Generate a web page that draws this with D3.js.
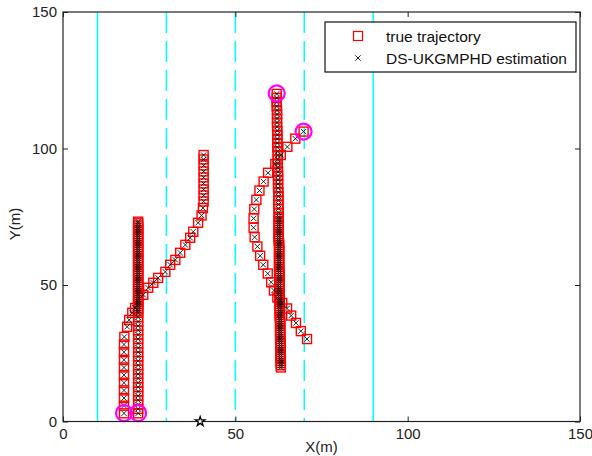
<!DOCTYPE html>
<html>
<head>
<meta charset="utf-8">
<script src="https://cdn.jsdelivr.net/npm/d3@7"></script>
<style>
  html, body { margin: 0; padding: 0; background: #fff; }
  svg { display: block; font-family: "Liberation Sans", Arial, sans-serif; }
</style>
</head>
<body>
<div id="chart"></div>
<script>
// axis ticks and lanes
const xTicks = [0, 50, 100, 150];
const yTicks = [0, 50, 100, 150];
const solidLanes = [10, 90];
const dashedLanes = [30, 50, 70];

// target 1: straight up along x ~ 21.8
const track1X = 21.8;
const track1Y = [3, 4.6, 6.2, 7.8, 9.4, 11, 12.6, 14.2, 15.8, 17.4, 19, 20.6, 22.2, 23.8,
  25.4, 27, 28.6, 30.2, 31.8, 33.4, 35, 36.6, 38.2, 39.8, 40.6, 41.4, 42.2, 43.0, 43.8,
  44.6, 45.4, 46.2, 47.0, 47.8, 48.6, 49.4, 50.2, 51.0, 51.8, 52.6, 53.4, 54.2, 55.0,
  55.8, 56.6, 57.4, 58.2, 59.0, 59.8, 60.6, 61.4, 62.2, 63.0, 63.8, 64.6, 65.4, 66.2,
  67.0, 67.8, 68.6, 69.4, 70.2, 71.0, 71.8, 72.6, 73.2];

// target 2: up, then bending right to x ~ 40
const track2 = [
  [17.7, 3], [17.7, 5.8], [17.7, 8.6], [17.7, 11.4], [17.7, 14.2], [17.7, 17],
  [17.7, 19.8], [17.7, 22.6], [17.7, 25.4], [17.7, 28.2], [17.8, 31],
  [18.6, 34.7], [19.2, 37.2], [20.1, 39.8], [20.9, 41.6], [21.8, 43.8], [23.3, 46.4],
  [24.7, 49], [26.2, 50.8], [27.6, 52.6], [29.7, 54.8], [31.1, 57.4], [32.6, 59.2],
  [34, 61.8], [35.5, 64.7], [36.9, 67.3], [37.8, 69.5], [39.2, 72.8], [40.2, 75.5],
  [40.6, 78.2], [40.8, 80.6], [40.8, 82.8], [40.8, 85], [40.8, 87.2], [40.8, 89.4],
  [40.8, 91.6], [40.8, 93.8], [40.8, 96], [40.8, 97.6]
];

// target 3: down from (62,120) to (63,20)
const track3 = [
  [62.0, 120], [62.0, 118.5], [62.0, 117], [62.0, 115.5], [62.1, 114], [62.1, 112.5],
  [62.1, 111], [62.1, 109.5], [62.1, 108], [62.2, 106.5], [62.2, 105], [62.2, 103.5],
  [62.2, 102], [62.2, 100.5], [62.3, 99], [62.3, 97.5], [62.3, 96], [62.3, 94.5],
  [62.3, 93], [62.4, 91.5], [62.4, 90], [62.4, 88.5], [62.4, 87], [62.4, 85.5],
  [62.5, 84], [62.5, 82.5], [62.5, 81], [62.5, 79.5], [62.5, 78], [62.6, 76.5],
  [62.6, 75], [62.6, 74.2], [62.6, 73.4], [62.6, 72.6], [62.6, 71.8], [62.6, 71.0],
  [62.6, 70.2], [62.6, 69.4], [62.6, 68.6], [62.6, 67.8], [62.6, 67.0], [62.6, 66.2],
  [62.7, 65.4], [62.7, 64.6], [62.7, 63.8], [62.7, 63.0], [62.7, 62.2], [62.7, 61.4],
  [62.7, 60.6], [62.7, 59.8], [62.7, 59.0], [62.7, 58.2], [62.7, 57.4], [62.7, 56.6],
  [62.7, 55.8], [62.8, 55.0], [62.8, 54.2], [62.8, 53.4], [62.8, 52.6], [62.8, 51.8],
  [62.8, 51.0], [62.8, 50.2], [62.8, 49.4], [62.8, 48.6], [62.8, 47.8], [62.8, 47.0],
  [62.9, 46.2], [62.9, 45.4], [62.9, 44.6], [62.9, 43.8], [62.9, 43.0], [62.9, 42.2],
  [62.9, 41.4], [62.9, 40.6], [62.9, 39.8], [62.9, 39.0], [62.9, 38.2], [63.0, 37.4],
  [63.0, 36.6], [63.0, 35.8], [63.0, 35.0], [63.0, 34.2], [63.0, 33.4], [63.0, 32.6],
  [63.0, 31.8], [63.0, 31.0], [63.0, 30.2], [63.1, 29.4], [63.1, 28.6], [63.1, 27.8],
  [63.1, 27.0], [63.1, 26.2], [63.1, 25.4], [63.1, 24.6], [63.1, 23.8], [63.1, 23.0],
  [63.2, 22.2], [63.2, 21.4], [63.2, 20.6], [63.2, 19.8]
];

// target 4: arc from (70,106) left to x ~ 55 and back to (71,30)
const track4 = [
  [69.8, 106.2], [67.4, 103.6], [65.1, 100.6], [63.2, 97.6], [61.6, 94.3], [59.5, 91.1],
  [58.2, 87.9], [57.0, 84.6], [56.1, 81.2], [55.5, 77.8], [55.3, 74.4], [55.3, 71.0],
  [55.6, 67.5], [56.4, 64.1], [57.2, 60.7], [58.1, 57.4], [59.4, 54.2], [60.4, 51.0],
  [61.2, 48.0], [62.2, 45.4], [63.6, 43.4], [65.0, 41.4], [66.2, 38.8], [67.6, 36.1],
  [69.0, 33.1], [70.8, 30.2]
];

const births = [[17.7, 3.1], [21.8, 3.1], [62.0, 120.2], [69.8, 106.2]];
const sensor = [[39.8, 0]];

const legendLabels = ['true trajectory', 'DS-UKGMPHD estimation'];

const width = 592, height = 456;
const margin = { top: 12, right: 12, bottom: 34.5, left: 63 };

const svg = d3.select('#chart').append('svg')
  .attr('width', width)
  .attr('height', height);

const x = d3.scaleLinear().domain([0, 150]).range([margin.left, width - margin.right]);
const y = d3.scaleLinear().domain([0, 150]).range([height - margin.bottom, margin.top]);

const truth = [
  ...track1Y.map(v => [track1X, v]),
  ...track2, ...track3, ...track4
];

// lanes
svg.append('g').selectAll('line')
  .data(solidLanes.concat(dashedLanes))
  .enter().append('line')
  .attr('x1', d => x(d)).attr('x2', d => x(d))
  .attr('y1', y(150)).attr('y2', y(0))
  .attr('stroke', '#00ffff')
  .attr('stroke-width', 1.5)
  .attr('stroke-dasharray', d => dashedLanes.includes(d) ? '21,8' : null);

// true trajectory squares
const sq = 9;
svg.append('g').selectAll('rect')
  .data(truth)
  .enter().append('rect')
  .attr('x', d => x(d[0]) - sq / 2)
  .attr('y', d => y(d[1]) - sq / 2)
  .attr('width', sq).attr('height', sq)
  .attr('fill', 'none')
  .attr('stroke', '#ff0000')
  .attr('stroke-width', 1.4);

// estimates
const cross = d3.symbol().type(d3.symbolX).size(20);
svg.append('g').selectAll('path')
  .data(truth)
  .enter().append('path')
  .attr('d', cross)
  .attr('transform', d => `translate(${x(d[0])},${y(d[1])})`)
  .attr('fill', 'none')
  .attr('stroke', '#111')
  .attr('stroke-width', 0.9);

// birth circles
svg.append('g').selectAll('circle')
  .data(births)
  .enter().append('circle')
  .attr('cx', d => x(d[0])).attr('cy', d => y(d[1]))
  .attr('r', 8)
  .attr('fill', 'none')
  .attr('stroke', '#ff00ff')
  .attr('stroke-width', 2.2);

// axes box
svg.append('rect')
  .attr('x', x(0)).attr('y', y(150))
  .attr('width', x(150) - x(0)).attr('height', y(0) - y(150))
  .attr('fill', 'none')
  .attr('stroke', '#222')
  .attr('stroke-width', 1.2);

const fmt = d3.format('d');
svg.append('g')
  .attr('transform', `translate(0,${y(0)})`)
  .call(d3.axisBottom(x).tickValues(xTicks).tickFormat(fmt).tickSizeInner(-5).tickSizeOuter(0).tickPadding(7));
svg.append('g')
  .attr('transform', `translate(${x(0)},0)`)
  .call(d3.axisLeft(y).tickValues(yTicks).tickFormat(fmt).tickSizeInner(-5).tickSizeOuter(0).tickPadding(6));
svg.append('g')
  .attr('transform', `translate(0,${y(150)})`)
  .call(d3.axisTop(x).tickValues(xTicks).tickFormat('').tickSizeInner(-5).tickSizeOuter(0));
svg.append('g')
  .attr('transform', `translate(${x(150)},0)`)
  .call(d3.axisRight(y).tickValues(yTicks).tickFormat('').tickSizeInner(-5).tickSizeOuter(0));

svg.selectAll('.domain').remove();
svg.selectAll('.tick line').attr('stroke', '#222');
svg.selectAll('.tick text')
  .attr('fill', '#222')
  .style('font-size', '15px')
  .style('font-family', '"Liberation Sans", Arial, sans-serif');

// sensor star
svg.append('g').selectAll('path')
  .data(sensor)
  .enter().append('path')
  .attr('d', d3.symbol().type(d3.symbolStar).size(28))
  .attr('transform', d => `translate(${x(d[0])},${y(d[1])})`)
  .attr('fill', '#fff')
  .attr('stroke', '#000')
  .attr('stroke-width', 1.3);

// axis labels
svg.append('text')
  .attr('x', (x(0) + x(150)) / 2).attr('y', 456)
  .attr('text-anchor', 'middle')
  .attr('dy', '-0.3em')
  .style('font-size', '15px')
  .attr('fill', '#222')
  .text('X(m)');
svg.append('text')
  .attr('transform', 'translate(20,224) rotate(-90)')
  .attr('text-anchor', 'middle')
  .style('font-size', '15px')
  .attr('fill', '#222')
  .text('Y(m)');

// legend
const lg = svg.append('g').attr('transform', 'translate(325,22)');
lg.append('rect')
  .attr('width', 251).attr('height', 50)
  .attr('fill', '#fff')
  .attr('stroke', '#111')
  .attr('stroke-width', 1.2);
lg.append('rect')
  .attr('x', 33 - sq / 2).attr('y', 14 - sq / 2)
  .attr('width', sq).attr('height', sq)
  .attr('fill', 'none').attr('stroke', '#ff0000').attr('stroke-width', 1.2);
lg.append('path')
  .attr('d', cross)
  .attr('transform', 'translate(33,36)')
  .attr('fill', 'none').attr('stroke', '#111').attr('stroke-width', 0.9);
lg.selectAll('text.lab')
  .data(legendLabels)
  .enter().append('text')
  .attr('class', 'lab')
  .attr('x', 61)
  .attr('y', (d, i) => 20 + i * 22)
  .style('font-size', '15.5px')
  .attr('fill', '#111')
  .text(d => d);
</script>
</body>
</html>
